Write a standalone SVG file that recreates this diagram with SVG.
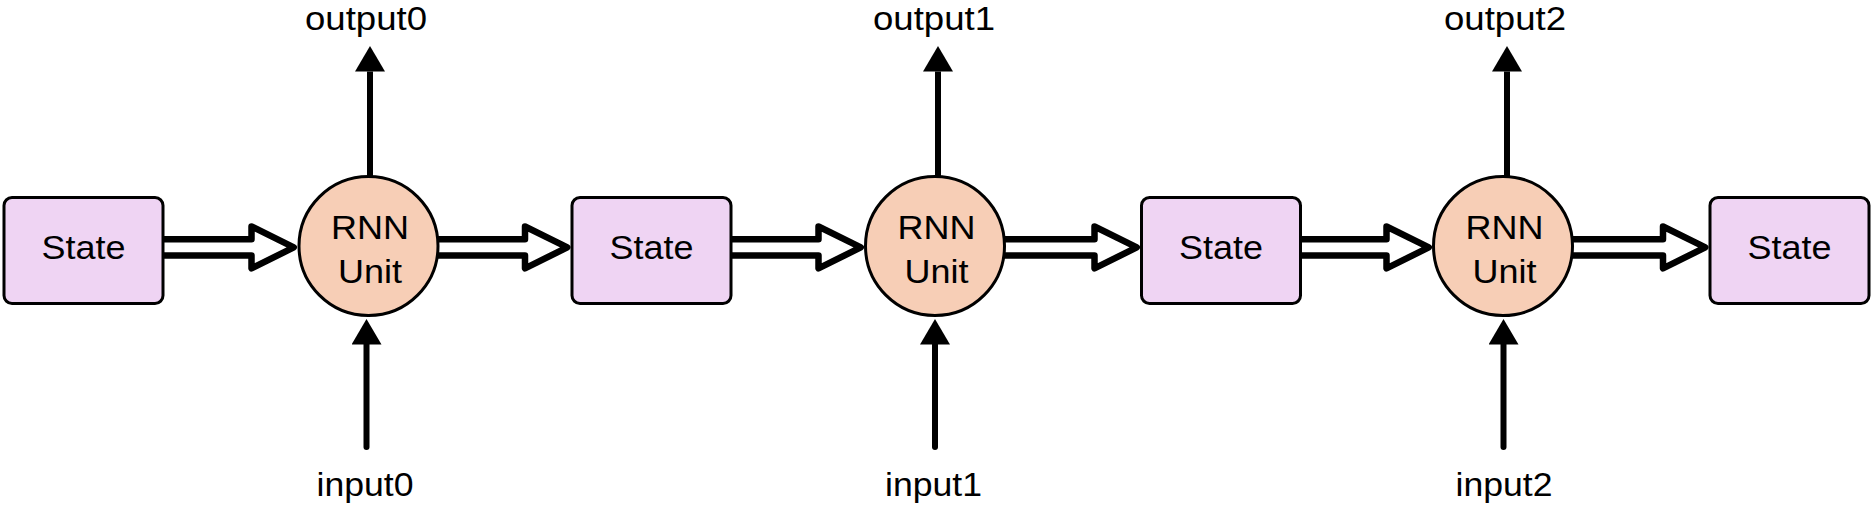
<svg xmlns="http://www.w3.org/2000/svg" width="1873" height="517" viewBox="0 0 1873 517">
<style>
  .state { fill: #EFD4F3; stroke: #000; stroke-width: 3; }
  .unit { fill: #F7CEB6; stroke: #000; stroke-width: 3; }
  .flex { fill: #fff; stroke: #000; stroke-width: 6.5; stroke-linejoin: round; }
  .io { fill: none; stroke: #000; stroke-width: 6; marker-end: url(#ah); }
  .in { stroke-linecap: round; }
  text { font-family: "Liberation Sans", Arial, Helvetica, sans-serif; font-size: 33px; fill: #000; text-anchor: middle; }
</style>
<defs>
  <marker id="ah" markerUnits="userSpaceOnUse" markerWidth="26" markerHeight="30" viewBox="0 0 25.5 30" refX="0" refY="15" orient="auto">
    <path d="M0,0 L25.5,15 L0,30 z" fill="#000"/>
  </marker>
</defs>
<rect width="1873" height="517" fill="#fff"/>
<g id="connectors">
  <path class="flex" d="M163,239.3 H251.5 V226.5 L293.8,247.4 L251.5,268.3 V255.5 H163"/>
  <path class="flex" d="M437.5,239.3 H525 V226.5 L567.3,247.4 L525,268.3 V255.5 H437.5"/>
  <path class="flex" d="M731,239.3 H818.5 V226.5 L860.8,247.4 L818.5,268.3 V255.5 H731"/>
  <path class="flex" d="M1004,239.3 H1094.5 V226.5 L1136.8,247.4 L1094.5,268.3 V255.5 H1004"/>
  <path class="flex" d="M1300.5,239.3 H1386.5 V226.5 L1428.8,247.4 L1386.5,268.3 V255.5 H1300.5"/>
  <path class="flex" d="M1572,239.3 H1663 V226.5 L1705.3,247.4 L1663,268.3 V255.5 H1572"/>
  <line class="io" x1="370" y1="180" x2="370" y2="71.5"/>
  <line class="io" x1="938" y1="180" x2="938" y2="71.5"/>
  <line class="io" x1="1507" y1="180" x2="1507" y2="71.5"/>
  <line class="io in" x1="366.5" y1="447" x2="366.5" y2="344.5"/>
  <line class="io in" x1="935" y1="447" x2="935" y2="344.5"/>
  <line class="io in" x1="1503.5" y1="447" x2="1503.5" y2="344.5"/>
</g>
<g id="state0">
  <rect class="state" x="4" y="197.5" width="159" height="106" rx="8"/>
  <text x="83.5" y="258.5" textLength="84" lengthAdjust="spacingAndGlyphs">State</text>
</g>
<g id="rnn0">
  <circle class="unit" cx="368.5" cy="246" r="69.5"/>
  <text x="370" y="239" textLength="78" lengthAdjust="spacingAndGlyphs">RNN</text>
  <text x="370" y="283" textLength="64" lengthAdjust="spacingAndGlyphs">Unit</text>
</g>
<g id="state1">
  <rect class="state" x="572" y="197.5" width="159" height="106" rx="8"/>
  <text x="651.5" y="258.5" textLength="84" lengthAdjust="spacingAndGlyphs">State</text>
</g>
<g id="rnn1">
  <circle class="unit" cx="935" cy="246" r="69.5"/>
  <text x="936.5" y="239" textLength="78" lengthAdjust="spacingAndGlyphs">RNN</text>
  <text x="936.5" y="283" textLength="64" lengthAdjust="spacingAndGlyphs">Unit</text>
</g>
<g id="state2">
  <rect class="state" x="1141.5" y="197.5" width="159" height="106" rx="8"/>
  <text x="1221" y="258.5" textLength="84" lengthAdjust="spacingAndGlyphs">State</text>
</g>
<g id="rnn2">
  <circle class="unit" cx="1503" cy="246" r="69.5"/>
  <text x="1504.5" y="239" textLength="78" lengthAdjust="spacingAndGlyphs">RNN</text>
  <text x="1504.5" y="283" textLength="64" lengthAdjust="spacingAndGlyphs">Unit</text>
</g>
<g id="state3">
  <rect class="state" x="1710" y="197.5" width="159" height="106" rx="8"/>
  <text x="1789.5" y="258.5" textLength="84" lengthAdjust="spacingAndGlyphs">State</text>
</g>
<g id="output0"><text x="366" y="30" textLength="122" lengthAdjust="spacingAndGlyphs">output0</text></g>
<g id="output1"><text x="934" y="30" textLength="122" lengthAdjust="spacingAndGlyphs">output1</text></g>
<g id="output2"><text x="1505" y="30" textLength="122" lengthAdjust="spacingAndGlyphs">output2</text></g>
<g id="input0"><text x="365" y="496" textLength="97" lengthAdjust="spacingAndGlyphs">input0</text></g>
<g id="input1"><text x="933.5" y="496" textLength="97" lengthAdjust="spacingAndGlyphs">input1</text></g>
<g id="input2"><text x="1504" y="496" textLength="97" lengthAdjust="spacingAndGlyphs">input2</text></g>
</svg>
